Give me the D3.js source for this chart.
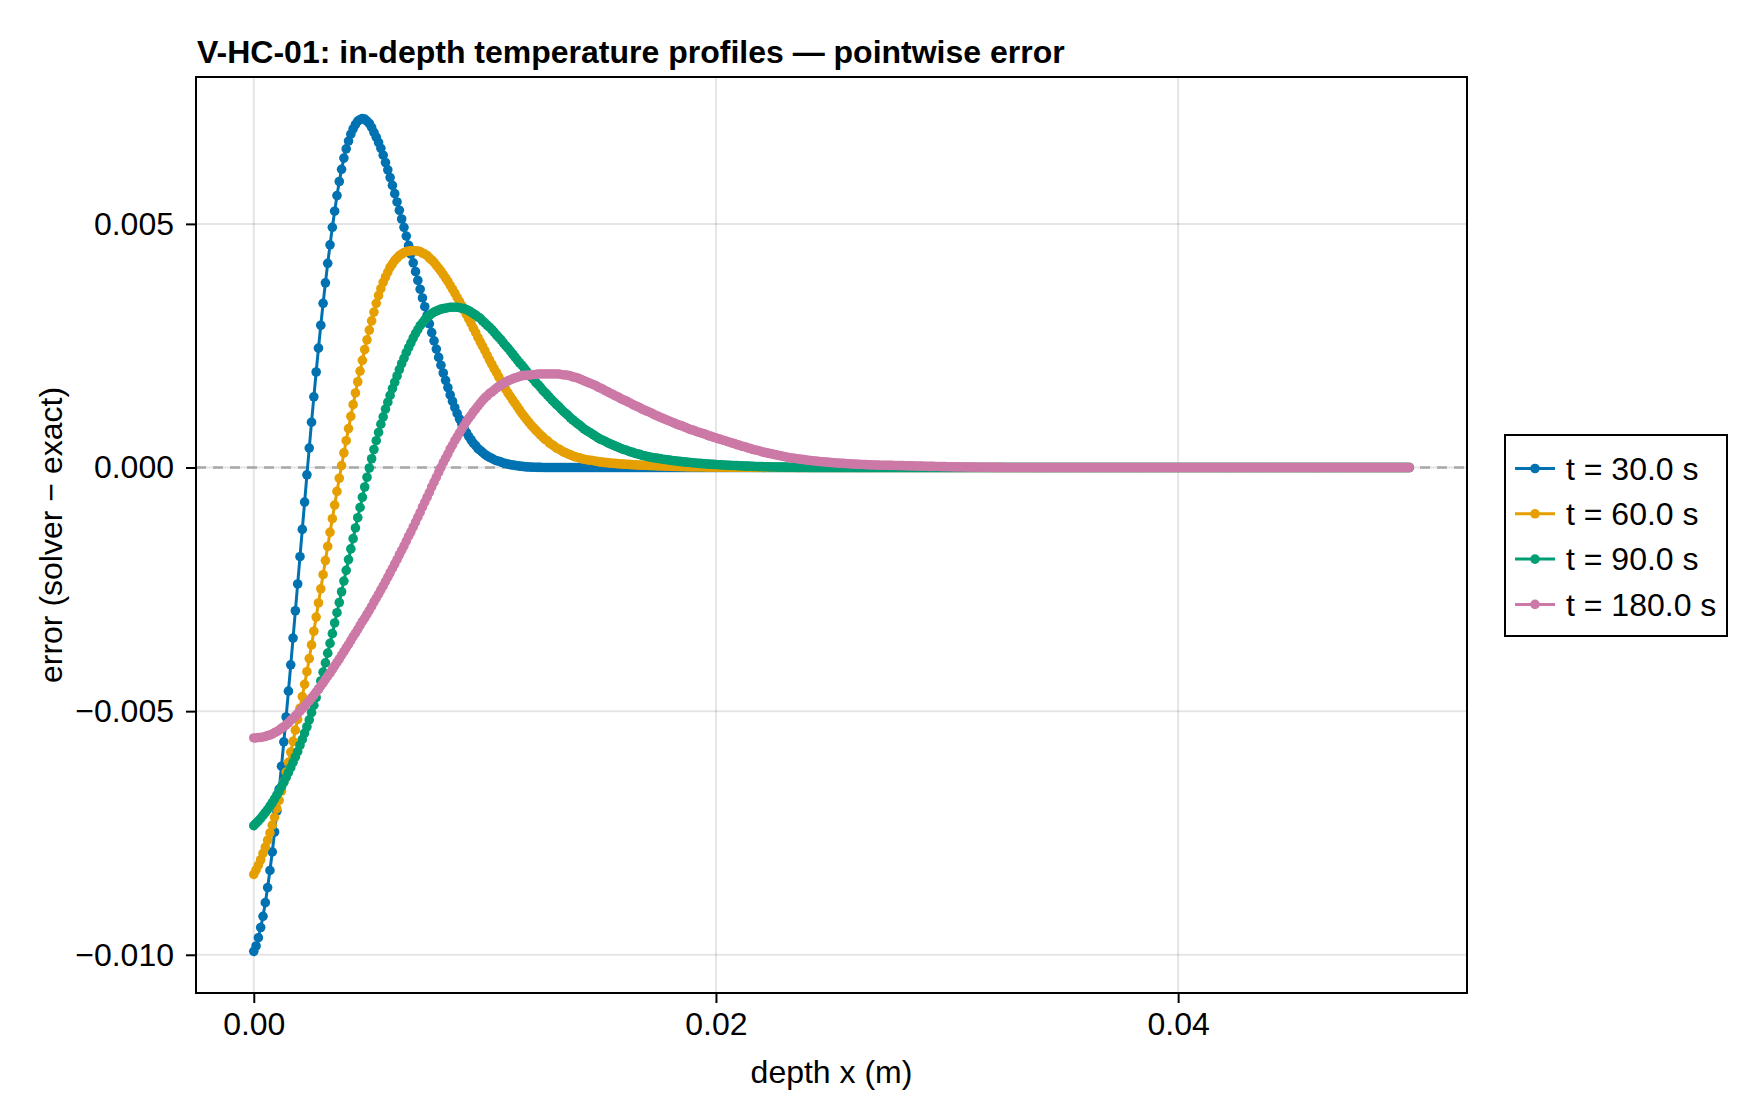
<!DOCTYPE html>
<html>
<head>
<meta charset="utf-8">
<script src="https://cdn.jsdelivr.net/npm/d3@7"></script>
<style>
  html, body { margin: 0; padding: 0; background: #fff; }
  svg text { font-family: "Liberation Sans", Arial, Helvetica, sans-serif; fill: #000; }
</style>
</head>
<body>
<svg id="chart" width="1760" height="1120"></svg>
<script>
// Pointwise error (solver - exact), in units of 1e-3, sampled every 0.1 mm from 0 to 50 mm
const errT30 = [
  -9.93,-9.82,-9.65,-9.44,-9.21,-8.93,-8.62,-8.27,-7.89,-7.48,
  -7.05,-6.60,-6.13,-5.63,-5.12,-4.59,-4.05,-3.50,-2.94,-2.39,
  -1.83,-1.27,-0.71,-0.15,0.40,0.93,1.45,1.96,2.45,2.92,
  3.37,3.79,4.19,4.57,4.93,5.26,5.58,5.87,6.12,6.35,
  6.54,6.70,6.84,6.95,7.04,7.11,7.14,7.16,7.15,7.11,
  7.06,6.98,6.88,6.78,6.67,6.55,6.41,6.26,6.11,5.95,
  5.79,5.62,5.45,5.28,5.10,4.93,4.75,4.56,4.38,4.20,
  4.02,3.84,3.66,3.48,3.30,3.12,2.95,2.77,2.60,2.43,
  2.26,2.10,1.94,1.79,1.64,1.49,1.36,1.23,1.11,1.00,
  0.90,0.80,0.72,0.64,0.57,0.50,0.45,0.39,0.35,0.31,
  0.27,0.24,0.21,0.19,0.16,0.14,0.13,0.11,0.094,0.082,
  0.070,0.060,0.051,0.043,0.035,0.029,0.023,0.018,0.014,0.010,
  0.008,0.006,0.004,0.003,0.002,0.001,0,0,0,0,
  0,0,0,0,0, 0,0,0,0,0, 0,0,0,0,0, 0,0,0,0,0,
  0,0,0,0,0, 0,0,0,0,0, 0,0,0,0,0, 0,0,0,0,0,
  0,0,0,0,0, 0,0,0,0,0, 0,0,0,0,0, 0,0,0,0,0,
  0,0,0,0,0, 0,0,0,0,0, 0,0,0,0,0, 0,0,0,0,0,
  0,0,0,0,0, 0,0,0,0,0, 0,0,0,0,0, 0,0,0,0,0,
  0,0,0,0,0, 0,0,0,0,0, 0,0,0,0,0, 0,0,0,0,0,
  0,0,0,0,0, 0,0,0,0,0, 0,0,0,0,0, 0,0,0,0,0,
  0,0,0,0,0, 0,0,0,0,0, 0,0,0,0,0, 0,0,0,0,0,
  0,0,0,0,0, 0,0,0,0,0, 0,0,0,0,0, 0,0,0,0,0,
  0,0,0,0,0, 0,0,0,0,0, 0,0,0,0,0, 0,0,0,0,0,
  0,0,0,0,0, 0,0,0,0,0, 0,0,0,0,0, 0,0,0,0,0,
  0,0,0,0,0, 0,0,0,0,0, 0,0,0,0,0, 0,0,0,0,0,
  0,0,0,0,0, 0,0,0,0,0, 0,0,0,0,0, 0,0,0,0,0,
  0,0,0,0,0, 0,0,0,0,0, 0,0,0,0,0, 0,0,0,0,0,
  0,0,0,0,0, 0,0,0,0,0, 0,0,0,0,0, 0,0,0,0,0,
  0,0,0,0,0, 0,0,0,0,0, 0,0,0,0,0, 0,0,0,0,0,
  0,0,0,0,0, 0,0,0,0,0, 0,0,0,0,0, 0,0,0,0,0,
  0,0,0,0,0, 0,0,0,0,0, 0,0,0,0,0, 0,0,0,0,0,
  0,0,0,0,0, 0,0,0,0,0,
  0
];

const errT60 = [
  -8.35,-8.26,-8.16,-8.05,-7.92,-7.79,-7.65,-7.50,-7.34,-7.18,
  -7.00,-6.83,-6.64,-6.45,-6.25,-6.05,-5.84,-5.62,-5.39,-5.17,
  -4.94,-4.70,-4.45,-4.19,-3.92,-3.64,-3.36,-3.07,-2.78,-2.49,
  -2.20,-1.91,-1.62,-1.33,-1.05,-0.77,-0.49,-0.22,0.04,0.30,
  0.55,0.80,1.05,1.29,1.53,1.76,1.98,2.20,2.42,2.62,
  2.82,3.01,3.19,3.37,3.53,3.67,3.80,3.91,4.01,4.11,
  4.18,4.25,4.30,4.35,4.38,4.41,4.43,4.44,4.45,4.45,
  4.45,4.44,4.43,4.40,4.38,4.35,4.30,4.26,4.21,4.15,
  4.09,4.03,3.96,3.89,3.82,3.74,3.66,3.58,3.49,3.41,
  3.32,3.23,3.14,3.05,2.96,2.86,2.77,2.67,2.58,2.49,
  2.40,2.30,2.21,2.12,2.03,1.95,1.86,1.78,1.69,1.61,
  1.53,1.46,1.39,1.32,1.25,1.18,1.11,1.05,0.99,0.93,
  0.87,0.82,0.77,0.72,0.67,0.63,0.58,0.55,0.50,0.47,
  0.44,0.40,0.38,0.35,0.32,0.30,0.28,0.26,0.24,0.22,
  0.21,0.20,0.18,0.17,0.16,0.15,0.15,0.14,0.13,0.12,
  0.11,0.11,0.10,0.10,0.09,0.088,0.084,0.080,0.076,0.072,
  0.070,0.066,0.064,0.060,0.057,0.055,0.051,0.049,0.047,0.045,
  0.043,0.041,0.039,0.037,0.035,0.033,0.032,0.030,0.028,0.027,
  0.025,0.024,0.022,0.021,0.020,0.018,0.017,0.016,0.015,0.014,
  0.014,0.013,0.012,0.011,0.011,0.010,0.009,0.009,0.008,0.007,
  0.007,0.006,0.006,0.006,0.006,0.006,0.005,0.005,0.005,0.005,
  0.005,0.004,0.004,0.004,0.004,0.004,0.003,0.003,0.003,0.003,
  0.003,0.002,0.002,0.002,0.002,0.002,0.001,0.001,0.001,0.001,
  0.001,0,0,0,0,0,0,0,0,0,
  0,0,0,0,0, 0,0,0,0,0, 0,0,0,0,0, 0,0,0,0,0,
  0,0,0,0,0, 0,0,0,0,0, 0,0,0,0,0, 0,0,0,0,0,
  0,0,0,0,0, 0,0,0,0,0, 0,0,0,0,0, 0,0,0,0,0,
  0,0,0,0,0, 0,0,0,0,0, 0,0,0,0,0, 0,0,0,0,0,
  0,0,0,0,0, 0,0,0,0,0, 0,0,0,0,0, 0,0,0,0,0,
  0,0,0,0,0, 0,0,0,0,0, 0,0,0,0,0, 0,0,0,0,0,
  0,0,0,0,0, 0,0,0,0,0, 0,0,0,0,0, 0,0,0,0,0,
  0,0,0,0,0, 0,0,0,0,0, 0,0,0,0,0, 0,0,0,0,0,
  0,0,0,0,0, 0,0,0,0,0, 0,0,0,0,0, 0,0,0,0,0,
  0,0,0,0,0, 0,0,0,0,0, 0,0,0,0,0, 0,0,0,0,0,
  0,0,0,0,0, 0,0,0,0,0, 0,0,0,0,0, 0,0,0,0,0,
  0,0,0,0,0, 0,0,0,0,0, 0,0,0,0,0, 0,0,0,0,0,
  0,0,0,0,0, 0,0,0,0,0, 0,0,0,0,0, 0,0,0,0,0,
  0
];

const errT90 = [
  -7.35,-7.30,-7.25,-7.20,-7.14,-7.08,-7.02,-6.95,-6.88,-6.80,
  -6.72,-6.64,-6.55,-6.46,-6.36,-6.26,-6.16,-6.05,-5.94,-5.83,
  -5.70,-5.58,-5.45,-5.32,-5.18,-5.03,-4.88,-4.72,-4.55,-4.38,
  -4.20,-4.01,-3.81,-3.61,-3.41,-3.19,-2.98,-2.77,-2.55,-2.33,
  -2.11,-1.89,-1.67,-1.46,-1.24,-1.03,-0.82,-0.61,-0.40,-0.20,
  -0.01,0.18,0.37,0.55,0.72,0.89,1.04,1.20,1.34,1.48,
  1.62,1.75,1.88,2.01,2.13,2.24,2.36,2.46,2.56,2.66,
  2.75,2.83,2.91,2.97,3.03,3.08,3.12,3.16,3.19,3.21,
  3.23,3.25,3.26,3.27,3.28,3.29,3.29,3.29,3.29,3.28,
  3.27,3.26,3.24,3.22,3.19,3.16,3.13,3.09,3.06,3.01,
  2.97,2.92,2.88,2.83,2.78,2.72,2.67,2.62,2.56,2.50,
  2.45,2.39,2.33,2.27,2.21,2.15,2.10,2.04,1.98,1.92,
  1.86,1.81,1.75,1.70,1.65,1.59,1.54,1.49,1.44,1.39,
  1.34,1.29,1.25,1.20,1.15,1.11,1.07,1.02,0.98,0.94,
  0.90,0.87,0.83,0.79,0.76,0.73,0.70,0.67,0.64,0.61,
  0.58,0.56,0.54,0.51,0.49,0.47,0.45,0.43,0.41,0.39,
  0.37,0.36,0.34,0.32,0.31,0.29,0.28,0.27,0.25,0.24,
  0.23,0.22,0.21,0.20,0.195,0.187,0.179,0.171,0.165,0.158,
  0.151,0.144,0.139,0.133,0.127,0.121,0.116,0.111,0.107,0.102,
  0.097,0.093,0.089,0.084,0.080,0.077,0.073,0.070,0.067,0.064,
  0.061,0.058,0.055,0.052,0.050,0.047,0.044,0.042,0.040,0.038,
  0.036,0.034,0.031,0.029,0.028,0.025,0.024,0.022,0.021,0.019,
  0.018,0.017,0.015,0.014,0.012,0.011,0.010,0.009,0.009,0.008,
  0.007,0.006,0.005,0.004,0.004,0.003,0.002,0.002,0.002,0.001,
  0.001,0,0,0,0,0,0,0,0,0,
  0,0,0,0,0, 0,0,0,0,0, 0,0,0,0,0, 0,0,0,0,0,
  0,0,0,0,0, 0,0,0,0,0, 0,0,0,0,0, 0,0,0,0,0,
  0,0,0,0,0, 0,0,0,0,0, 0,0,0,0,0, 0,0,0,0,0,
  0,0,0,0,0, 0,0,0,0,0, 0,0,0,0,0, 0,0,0,0,0,
  0,0,0,0,0, 0,0,0,0,0, 0,0,0,0,0, 0,0,0,0,0,
  0,0,0,0,0, 0,0,0,0,0, 0,0,0,0,0, 0,0,0,0,0,
  0,0,0,0,0, 0,0,0,0,0, 0,0,0,0,0, 0,0,0,0,0,
  0,0,0,0,0, 0,0,0,0,0, 0,0,0,0,0, 0,0,0,0,0,
  0,0,0,0,0, 0,0,0,0,0, 0,0,0,0,0, 0,0,0,0,0,
  0,0,0,0,0, 0,0,0,0,0, 0,0,0,0,0, 0,0,0,0,0,
  0,0,0,0,0, 0,0,0,0,0, 0,0,0,0,0, 0,0,0,0,0,
  0,0,0,0,0, 0,0,0,0,0, 0,0,0,0,0, 0,0,0,0,0,
  0,0,0,0,0, 0,0,0,0,0,
  0
];

const errT180 = [
  -5.55,-5.55,-5.54,-5.54,-5.53,-5.52,-5.50,-5.49,-5.47,-5.44,
  -5.42,-5.39,-5.35,-5.32,-5.28,-5.24,-5.19,-5.15,-5.10,-5.05,
  -5.00,-4.95,-4.90,-4.84,-4.79,-4.73,-4.67,-4.61,-4.55,-4.48,
  -4.42,-4.35,-4.28,-4.22,-4.15,-4.07,-4.00,-3.93,-3.85,-3.78,
  -3.70,-3.63,-3.55,-3.47,-3.40,-3.32,-3.24,-3.16,-3.09,-3.01,
  -2.93,-2.85,-2.76,-2.68,-2.60,-2.51,-2.43,-2.34,-2.25,-2.16,
  -2.07,-1.98,-1.89,-1.79,-1.70,-1.61,-1.51,-1.41,-1.32,-1.22,
  -1.12,-1.02,-0.92,-0.81,-0.71,-0.61,-0.51,-0.40,-0.30,-0.20,
  -0.10,0.00,0.10,0.19,0.28,0.38,0.46,0.55,0.63,0.71,
  0.79,0.86,0.94,1.01,1.07,1.14,1.20,1.26,1.32,1.38,
  1.43,1.47,1.52,1.55,1.59,1.63,1.66,1.69,1.72,1.75,
  1.78,1.80,1.82,1.84,1.85,1.87,1.88,1.89,1.89,1.90,
  1.90,1.91,1.91,1.92,1.92,1.92,1.92,1.92,1.92,1.92,
  1.92,1.92,1.92,1.91,1.90,1.90,1.89,1.88,1.86,1.85,
  1.84,1.82,1.80,1.78,1.76,1.74,1.72,1.70,1.68,1.65,
  1.63,1.61,1.58,1.56,1.53,1.51,1.48,1.46,1.44,1.41,
  1.39,1.37,1.34,1.32,1.29,1.27,1.25,1.23,1.20,1.18,
  1.16,1.14,1.12,1.09,1.07,1.05,1.03,1.01,0.99,0.97,
  0.95,0.93,0.91,0.89,0.87,0.86,0.84,0.82,0.80,0.78,
  0.77,0.75,0.73,0.72,0.70,0.69,0.67,0.65,0.64,0.62,
  0.61,0.59,0.58,0.56,0.55,0.53,0.52,0.50,0.49,0.47,
  0.46,0.44,0.43,0.42,0.40,0.39,0.37,0.36,0.35,0.34,
  0.32,0.31,0.30,0.29,0.28,0.27,0.26,0.25,0.24,0.23,
  0.22,0.21,0.20,0.196,0.189,0.181,0.174,0.167,0.161,0.155,
  0.149,0.143,0.138,0.133,0.127,0.123,0.118,0.114,0.110,0.105,
  0.102,0.098,0.094,0.090,0.087,0.084,0.081,0.078,0.076,0.073,
  0.070,0.068,0.065,0.063,0.061,0.059,0.057,0.055,0.053,0.052,
  0.050,0.048,0.047,0.046,0.045,0.044,0.043,0.042,0.041,0.040,
  0.039,0.038,0.036,0.035,0.034,0.033,0.032,0.030,0.029,0.028,
  0.027,0.026,0.024,0.024,0.023,0.022,0.021,0.020,0.019,0.018,
  0.017,0.016,0.015,0.014,0.013,0.012,0.011,0.011,0.010,0.009,
  0.009,0.008,0.007,0.006,0.006,0.005,0.005,0.004,0.004,0.003,
  0.003,0.002,0.002,0.002,0.002,0.001,0.001,0.001,0.001,0.001,
  0.001,0.001,0.001,0.001,0.001,0,0,0,0,0,
  0,0,0,0,0, 0,0,0,0,0, 0,0,0,0,0, 0,0,0,0,0,
  0,0,0,0,0, 0,0,0,0,0, 0,0,0,0,0, 0,0,0,0,0,
  0,0,0,0,0, 0,0,0,0,0, 0,0,0,0,0, 0,0,0,0,0,
  0,0,0,0,0, 0,0,0,0,0, 0,0,0,0,0, 0,0,0,0,0,
  0,0,0,0,0, 0,0,0,0,0, 0,0,0,0,0, 0,0,0,0,0,
  0,0,0,0,0, 0,0,0,0,0, 0,0,0,0,0, 0,0,0,0,0,
  0,0,0,0,0, 0,0,0,0,0, 0,0,0,0,0, 0,0,0,0,0,
  0,0,0,0,0, 0,0,0,0,0, 0,0,0,0,0, 0,0,0,0,0,
  0
];

const seriesLabels = ["t = 30.0 s", "t = 60.0 s", "t = 90.0 s", "t = 180.0 s"];
const xTickValues = [0, 0.02, 0.04];
const yTickValues = [-0.010, -0.005, 0.000, 0.005];

const depthStep = 1e-4;   // 0.1 mm grid spacing
const errUnit = 1e-3;     // arrays above are in 1e-3

const colors = ["#0072B2", "#E69F00", "#009E73", "#CC79A7"];
const markerR = 4.8;

// Layout
const margin = {top: 77, right: 293, bottom: 127, left: 196},
      width = 1760 - margin.left - margin.right,
      height = 1120 - margin.top - margin.bottom;

const svg = d3.select("#chart");
const g = svg.append("g")
    .attr("transform", "translate(" + margin.left + "," + margin.top + ")");

const series = [errT30, errT60, errT90, errT180].map(function(vals, k) {
  return {
    label: seriesLabels[k],
    color: colors[k],
    points: vals.map(function(v, i) { return {x: i * depthStep, y: v * errUnit}; })
  };
});

// Scales, with 5% padding like the original
const allPts = series.flatMap(function(s) { return s.points; });
const xExt = d3.extent(allPts, function(d) { return d.x; });
const yExt = d3.extent(allPts, function(d) { return d.y; });
const xPad = (xExt[1] - xExt[0]) * 0.05, yPad = (yExt[1] - yExt[0]) * 0.05;

const xScale = d3.scaleLinear()
    .domain([xExt[0] - xPad, xExt[1] + xPad])
    .range([0, width]);
const yScale = d3.scaleLinear()
    .domain([yExt[0] - yPad, yExt[1] + yPad])
    .range([height, 0]);

// Grid
g.append("g").selectAll("line")
    .data(xTickValues).enter().append("line")
    .attr("x1", function(d) { return xScale(d); }).attr("x2", function(d) { return xScale(d); })
    .attr("y1", 0).attr("y2", height)
    .attr("stroke", "rgba(0,0,0,0.1)").attr("stroke-width", 2);
g.append("g").selectAll("line")
    .data(yTickValues).enter().append("line")
    .attr("y1", function(d) { return yScale(d); }).attr("y2", function(d) { return yScale(d); })
    .attr("x1", 0).attr("x2", width)
    .attr("stroke", "rgba(0,0,0,0.1)").attr("stroke-width", 2);

// Zero reference line
g.append("line")
    .attr("x1", 0).attr("x2", width)
    .attr("y1", yScale(0)).attr("y2", yScale(0))
    .attr("stroke", "#a8a8a8").attr("stroke-width", 2.5)
    .attr("stroke-dasharray", "10,7");

// Series: line then markers
const line = d3.line()
    .x(function(d) { return xScale(d.x); })
    .y(function(d) { return yScale(d.y); });

series.forEach(function(s) {
  const sg = g.append("g");
  sg.append("path")
      .datum(s.points)
      .attr("fill", "none")
      .attr("stroke", s.color)
      .attr("stroke-width", 3)
      .attr("d", line);
  sg.selectAll("circle")
      .data(s.points).enter().append("circle")
      .attr("cx", function(d) { return xScale(d.x); })
      .attr("cy", function(d) { return yScale(d.y); })
      .attr("r", markerR)
      .attr("fill", s.color);
});

// Axes
const fmtX = d3.format(".2f"), fmtY = d3.format(".3f");
g.append("g")
    .attr("transform", "translate(0," + height + ")")
    .call(d3.axisBottom(xScale).tickValues(xTickValues).tickFormat(fmtX).tickSize(10).tickPadding(9))
    .call(function(a) { a.select(".domain").remove(); })
    .attr("font-size", 32).attr("font-family", null)
    .call(function(a) { a.selectAll(".tick line").attr("stroke", "#000").attr("stroke-width", 2); });

g.append("g")
    .call(d3.axisLeft(yScale).tickValues(yTickValues).tickFormat(fmtY).tickSize(10).tickPadding(12))
    .call(function(a) { a.select(".domain").remove(); })
    .attr("font-size", 32).attr("font-family", null)
    .call(function(a) { a.selectAll(".tick line").attr("stroke", "#000").attr("stroke-width", 2); });

// Frame
g.append("rect")
    .attr("x", 0).attr("y", 0).attr("width", width).attr("height", height)
    .attr("fill", "none").attr("stroke", "#000").attr("stroke-width", 2);

// Title and axis labels
svg.append("text")
    .attr("x", margin.left + 1).attr("y", 63)
    .attr("font-size", 32).attr("font-weight", "bold")
    .text("V-HC-01: in-depth temperature profiles \u2014 pointwise error");

svg.append("text")
    .attr("x", margin.left + width / 2).attr("y", 1083)
    .attr("text-anchor", "middle").attr("font-size", 32)
    .text("depth x (m)");

svg.append("text")
    .attr("transform", "translate(62," + (margin.top + height / 2) + ") rotate(-90)")
    .attr("text-anchor", "middle").attr("font-size", 32)
    .text("error (solver \u2212 exact)");

// Legend
const legend = svg.append("g").attr("transform", "translate(1505,435)");
legend.append("rect")
    .attr("width", 222).attr("height", 201)
    .attr("fill", "#fff").attr("stroke", "#000").attr("stroke-width", 2);
const rows = legend.selectAll("g.row")
    .data(series).enter().append("g")
    .attr("class", "row")
    .attr("transform", function(d, i) { return "translate(0," + (33.5 + i * 45.3) + ")"; });
rows.append("line")
    .attr("x1", 10).attr("x2", 50).attr("y1", 0).attr("y2", 0)
    .attr("stroke", function(d) { return d.color; }).attr("stroke-width", 3);
rows.append("circle")
    .attr("cx", 30).attr("cy", 0).attr("r", markerR)
    .attr("fill", function(d) { return d.color; });
rows.append("text")
    .attr("x", 61).attr("dy", "0.35em").attr("font-size", 32)
    .text(function(d) { return d.label; });
</script>
</body>
</html>
